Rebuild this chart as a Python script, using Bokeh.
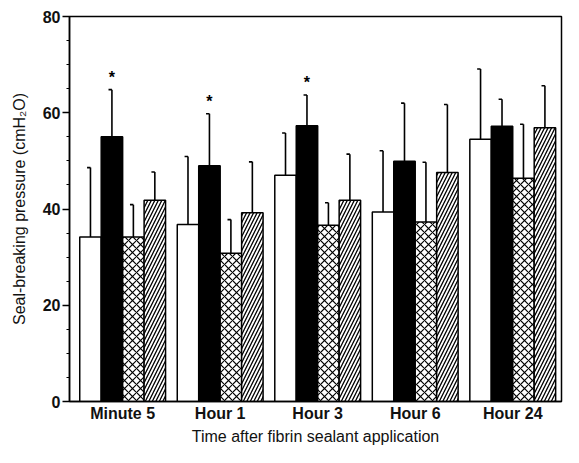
import numpy as np
from bokeh.plotting import figure
from bokeh.models import FixedTicker, Range1d
from bokeh.core.properties import value
from bokeh.embed import file_html
from bokeh.resources import INLINE

categories = ["Minute 5", "Hour 1", "Hour 3", "Hour 6", "Hour 24"]
open_mean = [34.2, 36.8, 47.0, 39.4, 54.5]
open_sd = [14.4, 14.1, 8.8, 12.7, 14.6]
black_mean = [55.0, 49.0, 57.3, 49.9, 57.2]
black_sd = [9.8, 10.8, 6.4, 12.1, 5.6]
cross_mean = [34.2, 30.8, 36.6, 37.3, 46.4]
cross_sd = [6.7, 7.0, 4.7, 12.4, 11.2]
diag_mean = [41.8, 39.2, 41.8, 47.6, 56.9]
diag_sd = [5.9, 10.6, 9.6, 14.1, 8.7]
significant = [True, True, True, False, False]
y_ticks = [0, 20, 40, 60, 80]

FONT = "Liberation Sans"

p = figure(width=563, height=447, output_backend="svg", toolbar_location=None,
           x_range=Range1d(-0.545, 4.5), y_range=Range1d(0, 80),
           min_border_left=69, min_border_right=2, min_border_top=16, min_border_bottom=44)
p.background_fill_color = "white"
p.border_fill_color = "white"
p.outline_line_color = "black"
p.outline_line_width = 1.5
p.xgrid.visible = False
p.ygrid.visible = False

idx = np.arange(len(categories))
bw = 0.22
offsets = [-0.33, -0.11, 0.11, 0.33]
series = [
    (open_mean, open_sd, dict(fill_color="white")),
    (black_mean, black_sd, dict(fill_color="black")),
    (cross_mean, cross_sd, dict(fill_color="white", hatch_pattern="x", hatch_color="black",
                                hatch_scale=8, hatch_weight=1.2)),
    (diag_mean, diag_sd, dict(fill_color="white", hatch_pattern="/", hatch_color="black",
                              hatch_scale=7, hatch_weight=1.3)),
]

for off, (mean, sd, style) in zip(offsets, series):
    xs = idx + off
    mean = np.array(mean)
    top = mean + np.array(sd)
    p.vbar(x=xs, top=mean, bottom=0, width=bw, line_color="black", line_width=1.5, **style)
    p.segment(x0=xs, y0=mean, x1=xs, y1=top, line_color="black", line_width=1.6)
    p.segment(x0=xs - 0.035, y0=top, x1=xs, y1=top, line_color="black", line_width=1.6)

bx = idx + offsets[1]
btop = np.array(black_mean) + np.array(black_sd)
sx = [x for x, s in zip(bx, significant) if s]
sy = [y + 0.8 for y, s in zip(btop, significant) if s]
p.text(x=sx, y=sy, text=["*"] * len(sx), text_align="center", text_baseline="bottom",
       text_font=value(FONT), text_font_size="16px", text_font_style="bold", text_color="black")

# axes
p.xaxis.ticker = FixedTicker(ticks=list(idx))
p.xaxis.major_label_overrides = {int(i): c for i, c in zip(idx, categories)}
p.xaxis.major_tick_line_color = None
p.xaxis.minor_tick_line_color = None
p.xaxis.major_tick_out = 0
p.xaxis.major_tick_in = 0
p.xaxis.axis_line_width = 1.5
p.xaxis.axis_line_color = "black"
p.xaxis.major_label_text_font = FONT
p.xaxis.major_label_text_font_size = "16px"
p.xaxis.major_label_text_font_style = "bold"
p.xaxis.major_label_text_color = "#111111"
p.xaxis.major_label_standoff = 3
p.xaxis.axis_label = "Time after fibrin sealant application"
p.xaxis.axis_label_text_font = FONT
p.xaxis.axis_label_text_font_size = "16px"
p.xaxis.axis_label_text_font_style = "normal"
p.xaxis.axis_label_text_color = "#111111"
p.xaxis.axis_label_standoff = 3

p.yaxis.ticker = FixedTicker(ticks=y_ticks, minor_ticks=list(range(0, 81, 5)))
p.yaxis.major_tick_out = 7
p.yaxis.major_tick_in = 0
p.yaxis.minor_tick_out = 3
p.yaxis.minor_tick_in = 0
p.yaxis.major_tick_line_width = 1.5
p.yaxis.minor_tick_line_width = 1.2
p.yaxis.major_tick_line_color = "black"
p.yaxis.minor_tick_line_color = "black"
p.yaxis.axis_line_width = 1.5
p.yaxis.axis_line_color = "black"
p.yaxis.major_label_text_font = FONT
p.yaxis.major_label_text_font_size = "16px"
p.yaxis.major_label_text_font_style = "bold"
p.yaxis.major_label_text_color = "#111111"
p.yaxis.major_label_standoff = 2
p.yaxis.axis_label = "Seal-breaking pressure (cmH\u2082O)"
p.yaxis.axis_label_text_font = FONT
p.yaxis.axis_label_text_font_size = "16px"
p.yaxis.axis_label_text_font_style = "normal"
p.yaxis.axis_label_text_color = "#111111"
p.yaxis.axis_label_standoff = 12

open("out.html", "w").write(file_html(p, INLINE))
